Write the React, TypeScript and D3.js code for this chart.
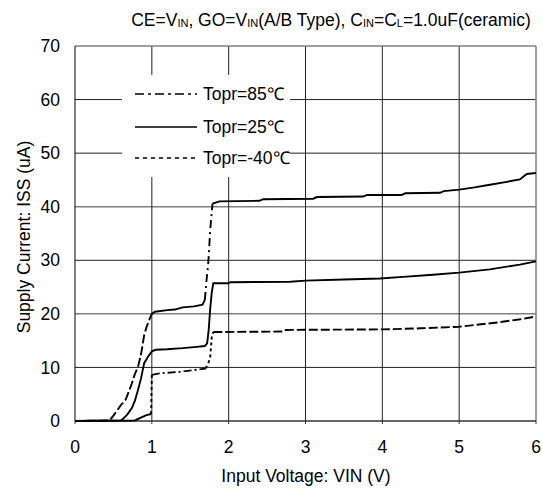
import * as d3 from 'd3';

const W = 542;
const H = 490;
const X0 = 75;
const X1 = 536;
const Y0 = 421;
const Y1 = 46;

const xTicks = [0, 1, 2, 3, 4, 5, 6];
const yTicks = [0, 10, 20, 30, 40, 50, 60, 70];

// Topr=85℃
const t85: [number, number][] = [
  [0, 0], [0.45, 0.1], [0.5, 1], [0.55, 2], [0.6, 3], [0.66, 4], [0.7, 5.5], [0.74, 7],
  [0.78, 8.8], [0.82, 10.1], [0.86, 12.5], [0.9, 16], [0.93, 17.5], [0.97, 19], [1.0, 20],
  [1.04, 20.4], [1.2, 20.7], [1.3, 20.8], [1.4, 21.2], [1.55, 21.4], [1.66, 21.7], [1.69, 22.6],
  [1.71, 26], [1.735, 29.5], [1.76, 35.7], [1.78, 39], [1.79, 40.6], [1.84, 40.8], [1.88, 41.0],
  [2.4, 41.1], [2.45, 41.4], [3.1, 41.5], [3.15, 41.8], [3.75, 41.9], [3.8, 42.2], [4.25, 42.2],
  [4.3, 42.5], [4.75, 42.6], [4.8, 42.9], [5.0, 43.2], [5.2, 43.6], [5.4, 44.1], [5.6, 44.6],
  [5.79, 45.1], [5.88, 46.1], [6.0, 46.3],
];

// Topr=25℃
const t25: [number, number][] = [
  [0, 0], [0.6, 0.1], [0.63, 0.5], [0.68, 1.2], [0.74, 2.4], [0.78, 3.8], [0.82, 5.8], [0.86, 8],
  [0.9, 10.8], [0.95, 12.0], [1.0, 13.0], [1.05, 13.3], [1.2, 13.4], [1.4, 13.6], [1.55, 13.8],
  [1.69, 14.0], [1.72, 14.5], [1.74, 17], [1.76, 21], [1.78, 24], [1.8, 25.7], [2.0, 25.7],
  [2.02, 25.9], [2.8, 26.0], [3.0, 26.2], [3.5, 26.4], [3.97, 26.6], [4.27, 26.9], [4.66, 27.3],
  [5.0, 27.7], [5.4, 28.3], [5.79, 29.2], [6.0, 29.8],
];

// Topr=-40℃
const tm40: [number, number][] = [
  [0, 0], [0.78, 0.1], [0.85, 0.6], [0.93, 1.1], [0.99, 1.3], [1.0, 8.6], [1.1, 8.9], [1.37, 9.2],
  [1.55, 9.5], [1.7, 9.8], [1.74, 11], [1.76, 12], [1.78, 15.7], [1.8, 16.6], [2.7, 16.7],
  [2.73, 17.0], [4.0, 17.1], [4.5, 17.3], [5.0, 17.6], [5.5, 18.4], [5.8, 19.0], [6.0, 19.5],
];

type Seg = [number, number, string | null];

const series: { data: [number, number][]; segs: Seg[] }[] = [
  { data: t85, segs: [[0, 1.0, '9,3'], [1.0, 1.69, null], [1.69, 1.79, '8,4,2,4'], [1.79, 6, null]] },
  { data: t25, segs: [[0, 6, null]] },
  { data: tm40, segs: [[0, 0.99, null], [0.99, 1.0, '3,3'], [1.0, 1.7, '8,3,2,3'], [1.7, 1.8, '3,3'], [1.8, 6, '9,3']] },
];

const legendItems = [
  { label: 'Topr=85℃', dash: '9,4,3,4' },
  { label: 'Topr=25℃', dash: null },
  { label: 'Topr=-40℃', dash: '4,4' },
];

const FONT = '"Liberation Sans", Arial, sans-serif';

export default function App() {
  const x = d3.scaleLinear().domain([0, 6]).range([X0, X1]);
  const y = d3.scaleLinear().domain([0, 70]).range([Y0, Y1]);
  const line = d3.line<[number, number]>().x((d) => x(d[0])).y((d) => y(d[1]));

  const legendY = [94, 127, 158];

  return (
    <div style={{ position: 'absolute', left: 0, top: 0 }}>
      <svg width={W} height={H} style={{ display: 'block', background: '#fff' }} fontFamily={FONT}>
        {/* title */}
        <text x={331} y={26} fontSize={17.5} textAnchor="middle" fill="#000">
          CE=V<tspan fontSize={11} dy={1}>IN</tspan>
          <tspan dy={-1}>, GO=V</tspan>
          <tspan fontSize={11} dy={1}>IN</tspan>
          <tspan dy={-1}>(A/B Type), C</tspan>
          <tspan fontSize={11} dy={1}>IN</tspan>
          <tspan dy={-1}>=C</tspan>
          <tspan fontSize={11} dy={1}>L</tspan>
          <tspan dy={-1}>=1.0uF(ceramic)</tspan>
        </text>

        {/* grid */}
        {yTicks.slice(1, -1).map((t) => (
          <line key={'h' + t} x1={X0} x2={X1} y1={y(t)} y2={y(t)}
            stroke={t === 20 || t === 40 ? '#808080' : '#222'} strokeWidth={t === 20 || t === 40 ? 1.5 : 1} />
        ))}
        {xTicks.slice(1, -1).map((t) => (
          <line key={'v' + t} x1={x(t)} x2={x(t)} y1={Y1} y2={Y0} stroke="#222" strokeWidth={1} />
        ))}

        {/* legend box */}
        <rect x={122} y={75} width={168} height={102} fill="#fff" />

        {/* frame */}
        <line x1={X0} x2={X1} y1={Y1} y2={Y1} stroke="#808080" strokeWidth={1.5} />
        <line x1={X1} x2={X1} y1={Y1} y2={Y0} stroke="#808080" strokeWidth={1.5} />
        <line x1={X0} x2={X0} y1={Y1} y2={Y0} stroke="#000" strokeWidth={1} />
        <line x1={X0} x2={X1} y1={Y0} y2={Y0} stroke="#333" strokeWidth={1.5} />
        {xTicks.map((t) => (
          <line key={'xt' + t} x1={x(t)} x2={x(t)} y1={Y0} y2={Y0 + 3} stroke="#333" strokeWidth={1} />
        ))}

        {/* curves */}
        {series.map((s, i) =>
          s.segs.map(([a, b, dash], j) => (
            <path key={i + '-' + j}
              d={line(s.data.filter((d) => d[0] >= a && d[0] <= b)) || ''}
              fill="none" stroke="#000" strokeWidth={1.9}
              strokeDasharray={dash || undefined} />
          ))
        )}

        {/* tick labels */}
        {yTicks.map((t) => (
          <text key={'yl' + t} x={60} y={y(t)} dy="0.35em" fontSize={17.5} textAnchor="end" fill="#000">{t}</text>
        ))}
        {xTicks.map((t) => (
          <text key={'xl' + t} x={x(t)} y={453} fontSize={17.5} textAnchor="middle" fill="#000">{t}</text>
        ))}

        {/* axis titles */}
        <text x={306} y={482} fontSize={17.5} textAnchor="middle" fill="#000">Input Voltage: VIN (V)</text>
        <text transform={`translate(24,${237}) rotate(-90)`} dy="0.35em" fontSize={17.5} textAnchor="middle" fill="#000">
          Supply Current: ISS (uA)
        </text>

        {/* legend */}
        {legendItems.map((it, i) => (
          <g key={it.label}>
            <line x1={135} x2={197} y1={legendY[i]} y2={legendY[i]} stroke="#000" strokeWidth={1.3}
              strokeDasharray={it.dash || undefined} />
            <text x={203} y={legendY[i]} dy="0.35em" fontSize={17.5} fill="#000">{it.label}</text>
          </g>
        ))}
      </svg>
    </div>
  );
}
